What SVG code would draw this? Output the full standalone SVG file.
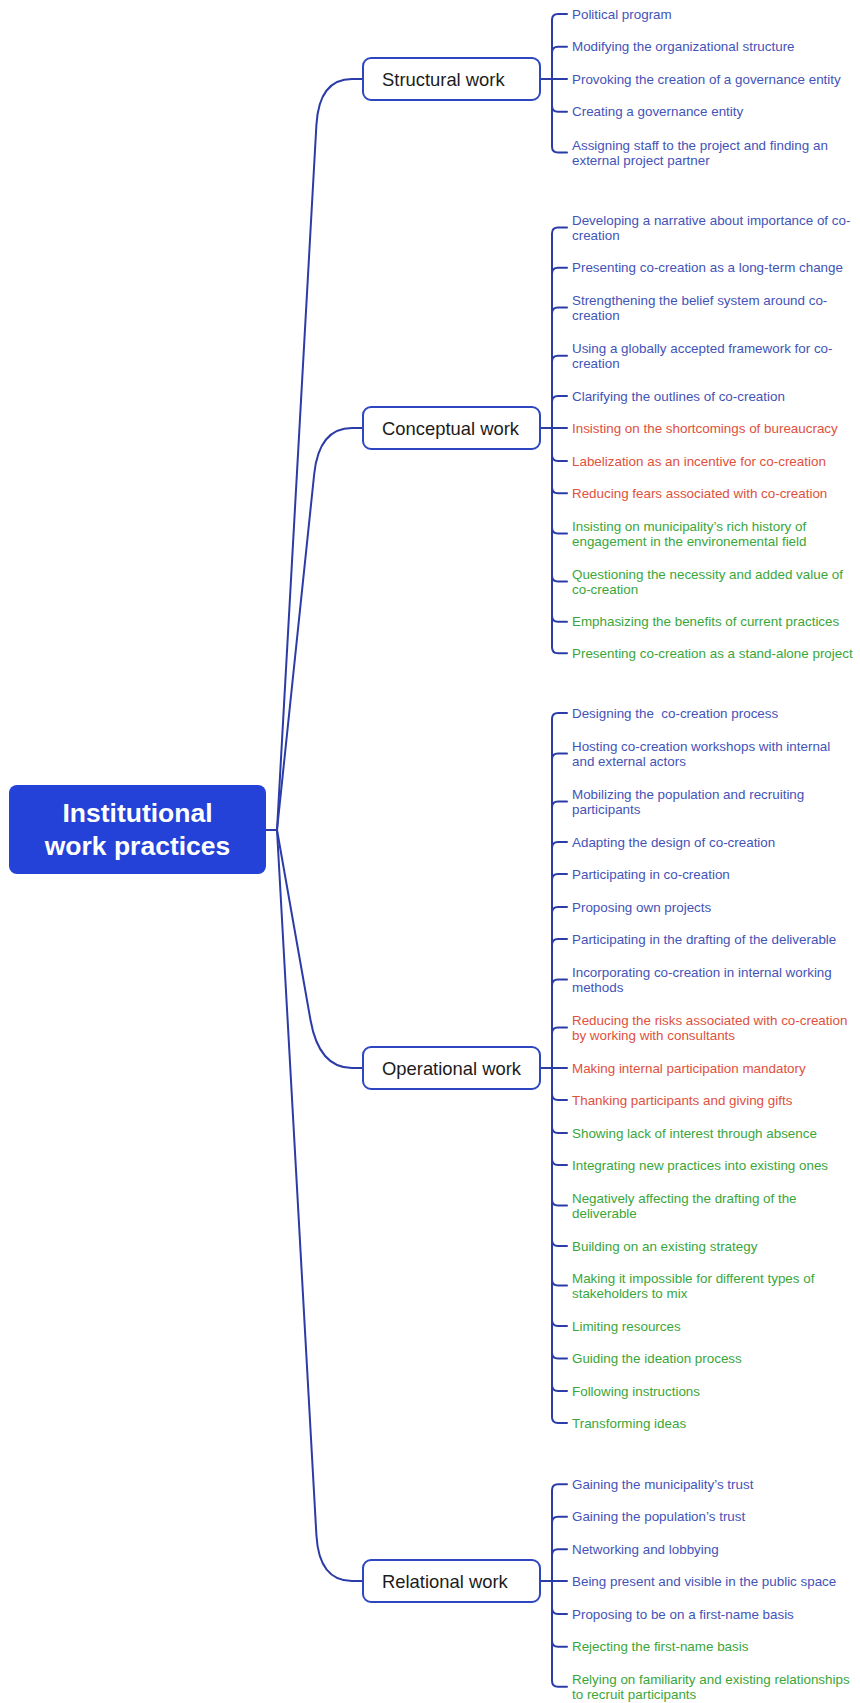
<svg xmlns="http://www.w3.org/2000/svg" width="860" height="1703" viewBox="0 0 860 1703">
<style>
.c{fill:none;stroke:#2b3ca8;stroke-width:2;stroke-linecap:round;stroke-linejoin:round}
.box{fill:#fff;stroke:#2e47c0;stroke-width:2}
.bt{font-family:"Liberation Sans",Arial,sans-serif;font-size:18.4px;fill:#1c1c1c}
.rt{font-family:"Liberation Sans",Arial,sans-serif;font-size:26.5px;font-weight:bold;fill:#fff;text-anchor:middle}
.t{font-family:"Liberation Sans",Arial,sans-serif;font-size:13.4px}
.b{fill:#4353b8}.r{fill:#e0503c}.g{fill:#3aa63a}
</style>
<rect width="860" height="1703" fill="#fff"/>
<g id="connectors" class="c">
<path d="M266 830H277"/>
<path d="M277 830L316.4 125Q319 79 352 79H363"/>
<path d="M277 830L314.2 474Q319 428 352 428H363"/>
<path d="M277 830L310.5 1020Q319 1068 352 1068H363"/>
<path d="M277 830L316.4 1535Q319 1581 352 1581H363"/>
<!-- structural -->
<path d="M540 79H552V20Q552 14 558 14H567"/>
<path d="M540 79H552V52.7Q552 46.7 558 46.7H567"/>
<path d="M540 79H567"/>
<path d="M540 79H552V105.7Q552 111.7 558 111.7H567"/>
<path d="M540 79H552V146.5Q552 152.5 558 152.5H567"/>
<!-- conceptual -->
<path d="M540 428H552V233.5Q552 227.5 558 227.5H567"/>
<path d="M540 428H552V273.7Q552 267.7 558 267.7H567"/>
<path d="M540 428H552V313.5Q552 307.5 558 307.5H567"/>
<path d="M540 428H552V361.8Q552 355.8 558 355.8H567"/>
<path d="M540 428H552V402Q552 396 558 396H567"/>
<path d="M540 428H567"/>
<path d="M540 428H552V455Q552 461 558 461H567"/>
<path d="M540 428H552V487.3Q552 493.3 558 493.3H567"/>
<path d="M540 428H552V527.5Q552 533.5 558 533.5H567"/>
<path d="M540 428H552V575.5Q552 581.5 558 581.5H567"/>
<path d="M540 428H552V615.7Q552 621.7 558 621.7H567"/>
<path d="M540 428H552V647.3Q552 653.3 558 653.3H567"/>
<!-- operational -->
<path d="M540 1068H552V719Q552 713 558 713H567"/>
<path d="M540 1068H552V759.5Q552 753.5 558 753.5H567"/>
<path d="M540 1068H552V807.5Q552 801.5 558 801.5H567"/>
<path d="M540 1068H552V848Q552 842 558 842H567"/>
<path d="M540 1068H552V880Q552 874 558 874H567"/>
<path d="M540 1068H552V913Q552 907 558 907H567"/>
<path d="M540 1068H552V945Q552 939 558 939H567"/>
<path d="M540 1068H552V985.5Q552 979.5 558 979.5H567"/>
<path d="M540 1068H552V1033.5Q552 1027.5 558 1027.5H567"/>
<path d="M540 1068H567"/>
<path d="M540 1068H552V1094Q552 1100 558 1100H567"/>
<path d="M540 1068H552V1127Q552 1133 558 1133H567"/>
<path d="M540 1068H552V1159Q552 1165 558 1165H567"/>
<path d="M540 1068H552V1199.5Q552 1205.5 558 1205.5H567"/>
<path d="M540 1068H552V1240Q552 1246 558 1246H567"/>
<path d="M540 1068H552V1279.5Q552 1285.5 558 1285.5H567"/>
<path d="M540 1068H552V1320Q552 1326 558 1326H567"/>
<path d="M540 1068H552V1352.5Q552 1358.5 558 1358.5H567"/>
<path d="M540 1068H552V1385Q552 1391 558 1391H567"/>
<path d="M540 1068H552V1417Q552 1423 558 1423H567"/>
<!-- relational -->
<path d="M540 1581H552V1490.3Q552 1484.3 558 1484.3H567"/>
<path d="M540 1581H552V1522.7Q552 1516.7 558 1516.7H567"/>
<path d="M540 1581H552V1555.3Q552 1549.3 558 1549.3H567"/>
<path d="M540 1581H567"/>
<path d="M540 1581H552V1608Q552 1614 558 1614H567"/>
<path d="M540 1581H552V1640.7Q552 1646.7 558 1646.7H567"/>
<path d="M540 1581H552V1680.8Q552 1686.8 558 1686.8H567"/>
</g>
<g id="root">
<rect x="9" y="785" width="257" height="89" rx="8" fill="#2442d8"/>
<text class="rt" x="137.5" y="822">Institutional</text>
<text class="rt" x="137.5" y="855">work practices</text>
</g>
<g id="structural"><rect class="box" x="363" y="58" width="177" height="42" rx="8"/><text class="bt" x="382" y="85.5">Structural work</text></g>
<g id="conceptual"><rect class="box" x="363" y="407" width="177" height="42" rx="8"/><text class="bt" x="382" y="434.5">Conceptual work</text></g>
<g id="operational"><rect class="box" x="363" y="1047" width="177" height="42" rx="8"/><text class="bt" x="382" y="1074.5">Operational work</text></g>
<g id="relational"><rect class="box" x="363" y="1560" width="177" height="42" rx="8"/><text class="bt" x="382" y="1587.5">Relational work</text></g>

<g id="s1"><text class="t b" x="572" y="18.7">Political program</text></g>
<g id="s2"><text class="t b" x="572" y="51.4">Modifying the organizational structure</text></g>
<g id="s3"><text class="t b" x="572" y="84">Provoking the creation of a governance entity</text></g>
<g id="s4"><text class="t b" x="572" y="116.4">Creating a governance entity</text></g>
<g id="s5"><text class="t b" x="572" y="149.7">Assigning staff to the project and finding an<tspan x="572" y="164.7">external project partner</tspan></text></g>

<g id="c1"><text class="t b" x="572" y="224.7">Developing a narrative about importance of co-<tspan x="572" y="239.7">creation</tspan></text></g>
<g id="c2"><text class="t b" x="572" y="272.4">Presenting co-creation as a long-term change</text></g>
<g id="c3"><text class="t b" x="572" y="304.7">Strengthening the belief system around co-<tspan x="572" y="319.7">creation</tspan></text></g>
<g id="c4"><text class="t b" x="572" y="353">Using a globally accepted framework for co-<tspan x="572" y="368">creation</tspan></text></g>
<g id="c5"><text class="t b" x="572" y="400.7">Clarifying the outlines of co-creation</text></g>
<g id="c6"><text class="t r" x="572" y="433">Insisting on the shortcomings of bureaucracy</text></g>
<g id="c7"><text class="t r" x="572" y="465.7">Labelization as an incentive for co-creation</text></g>
<g id="c8"><text class="t r" x="572" y="498">Reducing fears associated with co-creation</text></g>
<g id="c9"><text class="t g" x="572" y="530.7">Insisting on municipality’s rich history of<tspan x="572" y="545.7">engagement in the environemental field</tspan></text></g>
<g id="c10"><text class="t g" x="572" y="578.7">Questioning the necessity and added value of<tspan x="572" y="593.7">co-creation</tspan></text></g>
<g id="c11"><text class="t g" x="572" y="626.4">Emphasizing the benefits of current practices</text></g>
<g id="c12"><text class="t g" x="572" y="658">Presenting co-creation as a stand-alone project</text></g>

<g id="o1"><text class="t b" x="572" y="717.7" xml:space="preserve">Designing the  co-creation process</text></g>
<g id="o2"><text class="t b" x="572" y="750.7">Hosting co-creation workshops with internal<tspan x="572" y="765.7">and external actors</tspan></text></g>
<g id="o3"><text class="t b" x="572" y="798.7">Mobilizing the population and recruiting<tspan x="572" y="813.7">participants</tspan></text></g>
<g id="o4"><text class="t b" x="572" y="846.7">Adapting the design of co-creation</text></g>
<g id="o5"><text class="t b" x="572" y="878.7">Participating in co-creation</text></g>
<g id="o6"><text class="t b" x="572" y="911.7">Proposing own projects</text></g>
<g id="o7"><text class="t b" x="572" y="943.7">Participating in the drafting of the deliverable</text></g>
<g id="o8"><text class="t b" x="572" y="976.7">Incorporating co-creation in internal working<tspan x="572" y="991.7">methods</tspan></text></g>
<g id="o9"><text class="t r" x="572" y="1024.7">Reducing the risks associated with co-creation<tspan x="572" y="1039.7">by working with consultants</tspan></text></g>
<g id="o10"><text class="t r" x="572" y="1072.7">Making internal participation mandatory</text></g>
<g id="o11"><text class="t r" x="572" y="1104.7">Thanking participants and giving gifts</text></g>
<g id="o12"><text class="t g" x="572" y="1137.7">Showing lack of interest through absence</text></g>
<g id="o13"><text class="t g" x="572" y="1169.7">Integrating new practices into existing ones</text></g>
<g id="o14"><text class="t g" x="572" y="1202.7">Negatively affecting the drafting of the<tspan x="572" y="1217.7">deliverable</tspan></text></g>
<g id="o15"><text class="t g" x="572" y="1250.7">Building on an existing strategy</text></g>
<g id="o16"><text class="t g" x="572" y="1282.7">Making it impossible for different types of<tspan x="572" y="1297.7">stakeholders to mix</tspan></text></g>
<g id="o17"><text class="t g" x="572" y="1330.7">Limiting resources</text></g>
<g id="o18"><text class="t g" x="572" y="1363.2">Guiding the ideation process</text></g>
<g id="o19"><text class="t g" x="572" y="1395.7">Following instructions</text></g>
<g id="o20"><text class="t g" x="572" y="1427.7">Transforming ideas</text></g>

<g id="r1"><text class="t b" x="572" y="1489">Gaining the municipality’s trust</text></g>
<g id="r2"><text class="t b" x="572" y="1521.4">Gaining the population’s trust</text></g>
<g id="r3"><text class="t b" x="572" y="1554">Networking and lobbying</text></g>
<g id="r4"><text class="t b" x="572" y="1586.4">Being present and visible in the public space</text></g>
<g id="r5"><text class="t b" x="572" y="1618.7">Proposing to be on a first-name basis</text></g>
<g id="r6"><text class="t g" x="572" y="1651.4">Rejecting the first-name basis</text></g>
<g id="r7"><text class="t g" x="572" y="1684">Relying on familiarity and existing relationships<tspan x="572" y="1699">to recruit participants</tspan></text></g>
</svg>
